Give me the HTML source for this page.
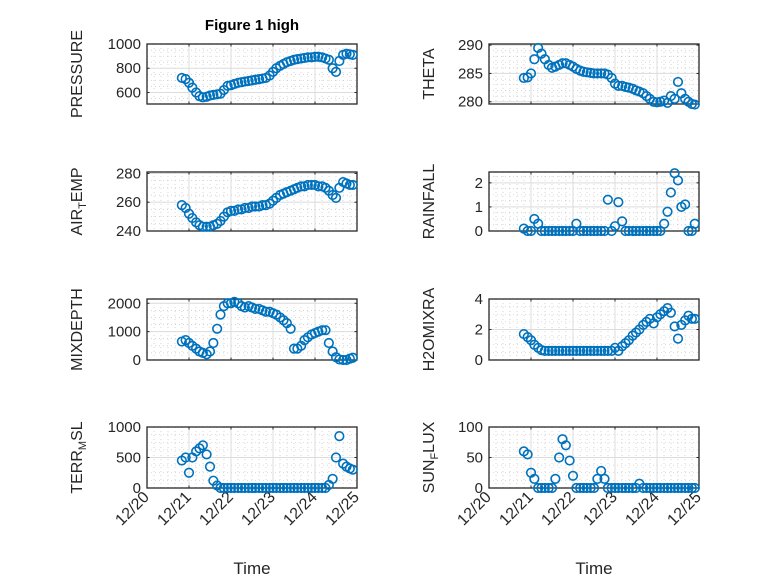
<!DOCTYPE html>
<html><head><meta charset="utf-8"><style>
html,body{margin:0;padding:0;background:#fff;}
svg{display:block;font-family:"Liberation Sans",sans-serif;}
</style></head><body>
<svg id="fig" width="778" height="583" viewBox="0 0 778 583">
<rect width="778" height="583" fill="#fff"/>
<text x="252" y="30" text-anchor="middle" font-weight="bold" font-size="15" fill="#000">Figure 1 high</text>
</svg>
<script>
const times = [20.83,20.92,21.00,21.08,21.17,21.25,21.33,21.42,21.50,21.58,21.67,21.75,21.83,21.92,22.00,22.08,22.17,22.25,22.33,22.42,22.50,22.58,22.67,22.75,22.83,22.92,23.00,23.08,23.17,23.25,23.33,23.42,23.50,23.58,23.67,23.75,23.83,23.92,24.00,24.08,24.17,24.25,24.33,24.42,24.50,24.58,24.67,24.75,24.83,24.90];
const pressure = [720,710,680,640,600,570,560,565,575,580,585,590,620,655,660,670,680,685,690,695,700,705,710,715,720,740,770,800,820,835,850,860,870,875,880,885,890,890,895,895,890,880,870,800,770,860,910,920,915,910];
const theta = [284.2,284.3,285,287.5,289.5,288.5,287.5,286.5,286,286.2,286.5,286.8,286.8,286.5,286.2,285.8,285.5,285.3,285.2,285.1,285,285,285,285,284.8,284.2,283.2,282.8,282.8,282.6,282.5,282.3,282,281.8,281.5,281,280.5,280,279.9,280,280.2,279.8,281,280.5,283.5,281.5,280.5,280,279.6,279.5];
const airTemp = [258,256,252,249,246,244,243,243,243,244,245,247,250,253,254,254,255,255,256,256,257,257,257,258,258,259,261,263,265,266,267,268,269,270,271,271,272,272,272,271,271,270,268,265,263,270,274,273,272,272];
const rainfall = [0.1,0,0,0.5,0.3,0,0,0,0,0,0,0,0,0,0,0.3,0,0,0,0,0,0,0,0,1.3,0,0.2,1.2,0.4,0,0,0,0,0,0,0,0,0,0,0,0.3,0.8,1.6,2.4,2.1,1.0,1.1,0,0,0.3];
const mixDepth = [650,700,600,500,400,300,250,200,300,600,1100,1600,1900,2000,2000,2050,2000,1900,1850,1900,1850,1800,1800,1750,1700,1700,1650,1600,1500,1400,1300,1100,400,400,500,700,800,900,950,1000,1050,1050,600,300,100,20,0,0,50,80];
const h2oMix = [1.7,1.5,1.3,1.0,0.8,0.65,0.6,0.6,0.6,0.6,0.6,0.6,0.6,0.6,0.6,0.6,0.6,0.6,0.6,0.6,0.6,0.6,0.6,0.6,0.6,0.6,0.8,0.6,0.9,1.1,1.3,1.6,1.8,2.0,2.3,2.5,2.7,2.4,2.8,3.0,3.2,3.4,3.1,2.2,1.4,2.3,2.6,2.9,2.7,2.7];
const terrMsl = [450,500,250,500,600,650,700,550,350,120,40,0,0,0,0,0,0,0,0,0,0,0,0,0,0,0,0,0,0,0,0,0,0,0,0,0,0,0,0,0,0,0,50,150,500,850,400,350,320,300];
const sunFlux = [60,55,25,15,0,0,0,0,0,15,50,80,70,45,20,0,0,0,0,0,0,15,28,15,0,0,0,0,0,0,0,0,0,7,0,0,0,0,0,0,0,0,0,0,0,0,0,0,0,0];
const xTickVals = [20,21,22,23,24,25];
const xTickLabels = ["12/20","12/21","12/22","12/23","12/24","12/25"];

const NS='http://www.w3.org/2000/svg';
const svg=document.getElementById('fig');
function mk(tag,attrs,parent){const e=document.createElementNS(NS,tag);for(const k in attrs)e.setAttribute(k,attrs[k]);(parent||svg).appendChild(e);return e;}

const panels=[
 {id:'pressure',label:['PRESSURE'],data:pressure,x:147,y:44,h:60,ymin:505,ymax:1000,ticks:[600,800,1000],minor:50,bottom:false},
 {id:'theta',label:['THETA'],data:theta,x:489,y:44,h:60,ymin:279.6,ymax:290.2,ticks:[280,285,290],minor:1,bottom:false},
 {id:'air-temp',label:['AIR','T','EMP'],data:airTemp,x:147,y:172,h:59,ymin:240,ymax:281,ticks:[240,260,280],minor:5,bottom:false},
 {id:'rainfall',label:['RAINFALL'],data:rainfall,x:489,y:172,h:59,ymin:0,ymax:2.45,ticks:[0,1,2],minor:0.25,bottom:false},
 {id:'mixdepth',label:['MIXDEPTH'],data:mixDepth,x:147,y:299,h:61,ymin:0,ymax:2150,ticks:[0,1000,2000],minor:250,bottom:false},
 {id:'h2omixra',label:['H2OMIXRA'],data:h2oMix,x:489,y:299,h:61,ymin:0,ymax:4,ticks:[0,2,4],minor:0.5,bottom:false},
 {id:'terr-msl',label:['TERR','M','SL'],data:terrMsl,x:147,y:427,h:61,ymin:0,ymax:1000,ticks:[0,500,1000],minor:125,bottom:true},
 {id:'sun-flux',label:['SUN','F','LUX'],data:sunFlux,x:489,y:427,h:61,ymin:0,ymax:100,ticks:[0,50,100],minor:12.5,bottom:true}
];
const W=210;
panels.forEach(p=>{
  const g=mk('g',{});
  
  
  const sx=d=>p.x+(d-20)/5*W;
  const sy=v=>p.y+p.h-(v-p.ymin)/(p.ymax-p.ymin)*p.h;
  for(let d=20;d<=25.001;d+=1/6){const X=sx(d);mk('line',{x1:X,x2:X,y1:p.y,y2:p.y+p.h,stroke:'#bbb','stroke-width':0.6,'stroke-dasharray':'1,3'},g);}
  for(let v=Math.ceil(p.ymin/p.minor)*p.minor;v<=p.ymax;v+=p.minor){const Y=sy(v);mk('line',{x1:p.x,x2:p.x+W,y1:Y,y2:Y,stroke:'#bbb','stroke-width':0.6,'stroke-dasharray':'1,3'},g);}
  xTickVals.forEach(d=>{const X=sx(d);mk('line',{x1:X,x2:X,y1:p.y,y2:p.y+p.h,stroke:'#dcdcdc','stroke-width':1},g);});
  p.ticks.forEach(v=>{const Y=sy(v);mk('line',{x1:p.x,x2:p.x+W,y1:Y,y2:Y,stroke:'#dcdcdc','stroke-width':1},g);});
  mk('rect',{x:p.x,y:p.y,width:W,height:p.h,fill:'none',stroke:'#262626','stroke-width':1.3},g);
  xTickVals.forEach(d=>{const X=sx(d);mk('line',{x1:X,x2:X,y1:p.y+p.h,y2:p.y+p.h-2.5,stroke:'#262626'},g);mk('line',{x1:X,x2:X,y1:p.y,y2:p.y+2.5,stroke:'#262626'},g);});
  p.ticks.forEach(v=>{
    const Y=sy(v);
    mk('line',{x1:p.x,x2:p.x+2.5,y1:Y,y2:Y,stroke:'#262626'},g);
    mk('line',{x1:p.x+W,x2:p.x+W-2.5,y1:Y,y2:Y,stroke:'#262626'},g);
    const t=mk('text',{x:p.x-6,y:Y+5,'text-anchor':'end','font-size':15,fill:'#262626'},g);
    t.textContent=String(v);
    
    
  });
  const lx=p.x-(p.x<300?65:55), ly=p.y+p.h/2;
  const yl=mk('text',{x:lx,y:ly,'text-anchor':'middle','font-size':16,fill:'#262626',transform:`rotate(-90 ${lx} ${ly})`},g);
  
  
  if(p.label.length===1){yl.textContent=p.label[0];}
  else{
    const a=mk('tspan',{},yl);a.textContent=p.label[0];
    const b=mk('tspan',{'font-size':11,dy:4},yl);b.textContent=p.label[1];
    const c=mk('tspan',{dy:-4},yl);c.textContent=p.label[2];
  }
  if(p.bottom){
    xTickVals.forEach((d,i)=>{
      const X=sx(d)+3,Y=p.y+p.h+10;
      const t=mk('text',{x:X,y:Y,'text-anchor':'end','font-size':16,fill:'#262626',transform:`rotate(-45 ${X} ${Y})`},g);
      t.textContent=xTickLabels[i];
      
      
    });
    const xl=mk('text',{x:p.x+W/2,y:574,'text-anchor':'middle','font-size':17,fill:'#262626'},g);
    xl.textContent='Time';
    
    
  }
  p.data.forEach((v,i)=>{
    const c=mk('circle',{cx:sx(times[i]),cy:sy(v),r:4.3,fill:'none',stroke:'#0072BD','stroke-width':1.6},g);
    
    
  });
});
</script>
</body></html>
